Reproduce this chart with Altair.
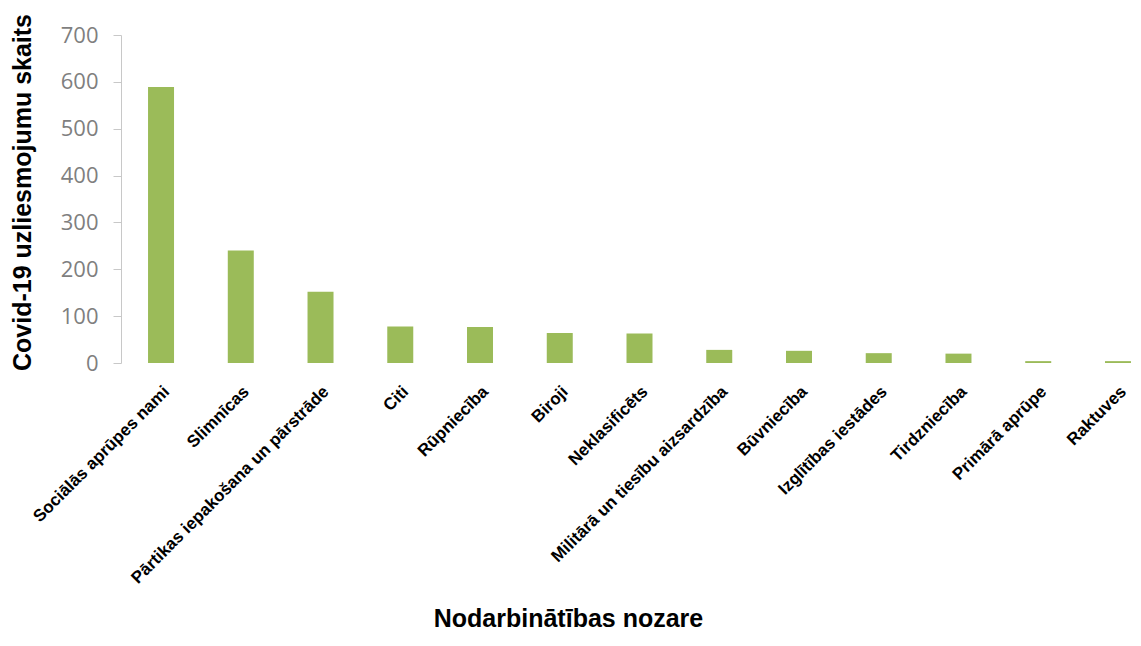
import altair as alt
import pandas as pd

categories = [
    "Sociālās aprūpes nami",
    "Slimnīcas",
    "Pārtikas iepakošana un pārstrāde",
    "Citi",
    "Rūpniecība",
    "Biroji",
    "Neklasificēts",
    "Militārā un tiesību aizsardzība",
    "Būvniecība",
    "Izglītības iestādes",
    "Tirdzniecība",
    "Primārā aprūpe",
    "Raktuves",
]
values = [589, 240, 152, 78, 77, 64, 63, 28, 26, 21, 20, 4, 4]
y_ticks = [0, 100, 200, 300, 400, 500, 600, 700]

df = pd.DataFrame({"nozare": categories, "skaits": values})

chart = (
    alt.Chart(df)
    .mark_bar(color="#9BBB59")
    .encode(
        x=alt.X(
            "nozare:N",
            sort=categories,
            scale=alt.Scale(range=[0, 1037], paddingInner=0.674, paddingOuter=0.339),
            axis=alt.Axis(
                title="Nodarbinātības nozare",
                domain=False,
                ticks=False,
                labelAngle=315,
                labelAlign="right",
                labelBaseline="top",
                labelPadding=20,
                labelFont="Liberation Sans",
                labelFontWeight="bold",
                labelFontSize=17,
                labelColor="#000000",
                labelOverlap=False,
                labelLimit=0,
                titleFont="Liberation Sans",
                titleFontWeight="bold",
                titleFontSize=25,
                titleColor="#000000",
                titleX=447,
                titleY=263,
                titleAlign="center",
                titleBaseline="alphabetic",
            ),
        ),
        y=alt.Y(
            "skaits:Q",
            scale=alt.Scale(domain=[0, 700], nice=False),
            axis=alt.Axis(
                title="Covid-19 uzliesmojumu skaits",
                values=y_ticks,
                grid=False,
                domainColor="#c8c8c8",
                tickColor="#c8c8c8",
                tickSize=8,
                labelPadding=15,
                labelFont="Open Sans",
                labelFontSize=22,
                labelColor="#7f7f7f",
                titleFont="Liberation Sans",
                titleFontWeight="bold",
                titleFontSize=25,
                titleColor="#000000",
                titleAngle=270,
                titleX=-99,
                titleY=157,
                titleAlign="center",
                titleBaseline="middle",
            ),
        ),
    )
    .properties(
        width=1004,
        height=328,
        background="white",
        autosize=alt.AutoSizeParams(type="none"),
        padding={"left": 113, "top": 27, "right": 8, "bottom": 269},
    )
    .configure_view(strokeWidth=0, stroke="transparent")
)

chart.save("out.html", embed_options={"renderer": "svg", "actions": False})
